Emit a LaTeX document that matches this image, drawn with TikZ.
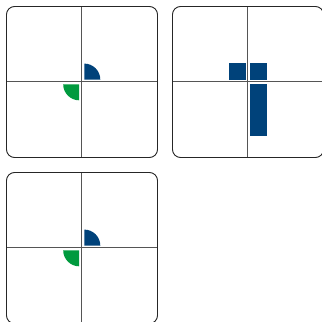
\documentclass[tikz,border=0pt]{standalone}
\usetikzlibrary{calc}
\definecolor{cblue}{HTML}{00427A}
\definecolor{cgreen}{HTML}{009A3E}
\definecolor{cgray}{HTML}{555555}
\begin{document}
\begin{tikzpicture}[x={(1pt,0)},y={(0,-1pt)},
  panel/.style={draw=black!85,line width=0.9pt,rounded corners=8pt},
  cross/.style={draw=cgray,line width=1.3pt},
  bluefill/.style={fill=cblue},
  greenfill/.style={fill=cgreen}]
\useasboundingbox (0,0) rectangle (322,322);
\begin{scope}
\clip (0,0) rectangle (322,322);
% panel 1
\begin{scope}[shift={(0,0)}]
  \draw[cross] (6.5,81.2) -- (157.5,81.2);
  \draw[cross] (81.7,6.5) -- (81.7,157.5);
  \fill[bluefill] (84.3,79.6) -- ++(16,0) arc[start angle=0,end angle=-90,radius=16] -- cycle;
  \fill[greenfill] (79.2,84.3) -- ++(-16,0) arc[start angle=180,end angle=90,radius=16] -- cycle;
  \draw[panel] (6.5,6.5) rectangle (157.5,157.5);
\end{scope}
% panel 2
\begin{scope}[shift={(166,0)}]
  \draw[cross] (6.5,81.2) -- (157.5,81.2);
  \draw[cross] (81.7,6.5) -- (81.7,157.5);
  \fill[bluefill] (63,62.7) rectangle (80,79.8);
  \fill[bluefill] (84,62.7) rectangle (101,79.8);
  \fill[bluefill] (84,84) rectangle (101,136);
  \draw[panel] (6.5,6.5) rectangle (157.5,157.5);
\end{scope}
% panel 3
\begin{scope}[shift={(0,166)}]
  \draw[cross] (6.5,81.2) -- (157.5,81.2);
  \draw[cross] (81.7,6.5) -- (81.7,157.5);
  \fill[bluefill] (84.3,79.6) -- ++(16,0) arc[start angle=0,end angle=-90,radius=16] -- cycle;
  \fill[greenfill] (79.2,84.3) -- ++(-16,0) arc[start angle=180,end angle=90,radius=16] -- cycle;
  \draw[panel] (6.5,6.5) rectangle (157.5,157.5);
\end{scope}
\end{scope}
\end{tikzpicture}
\end{document}
